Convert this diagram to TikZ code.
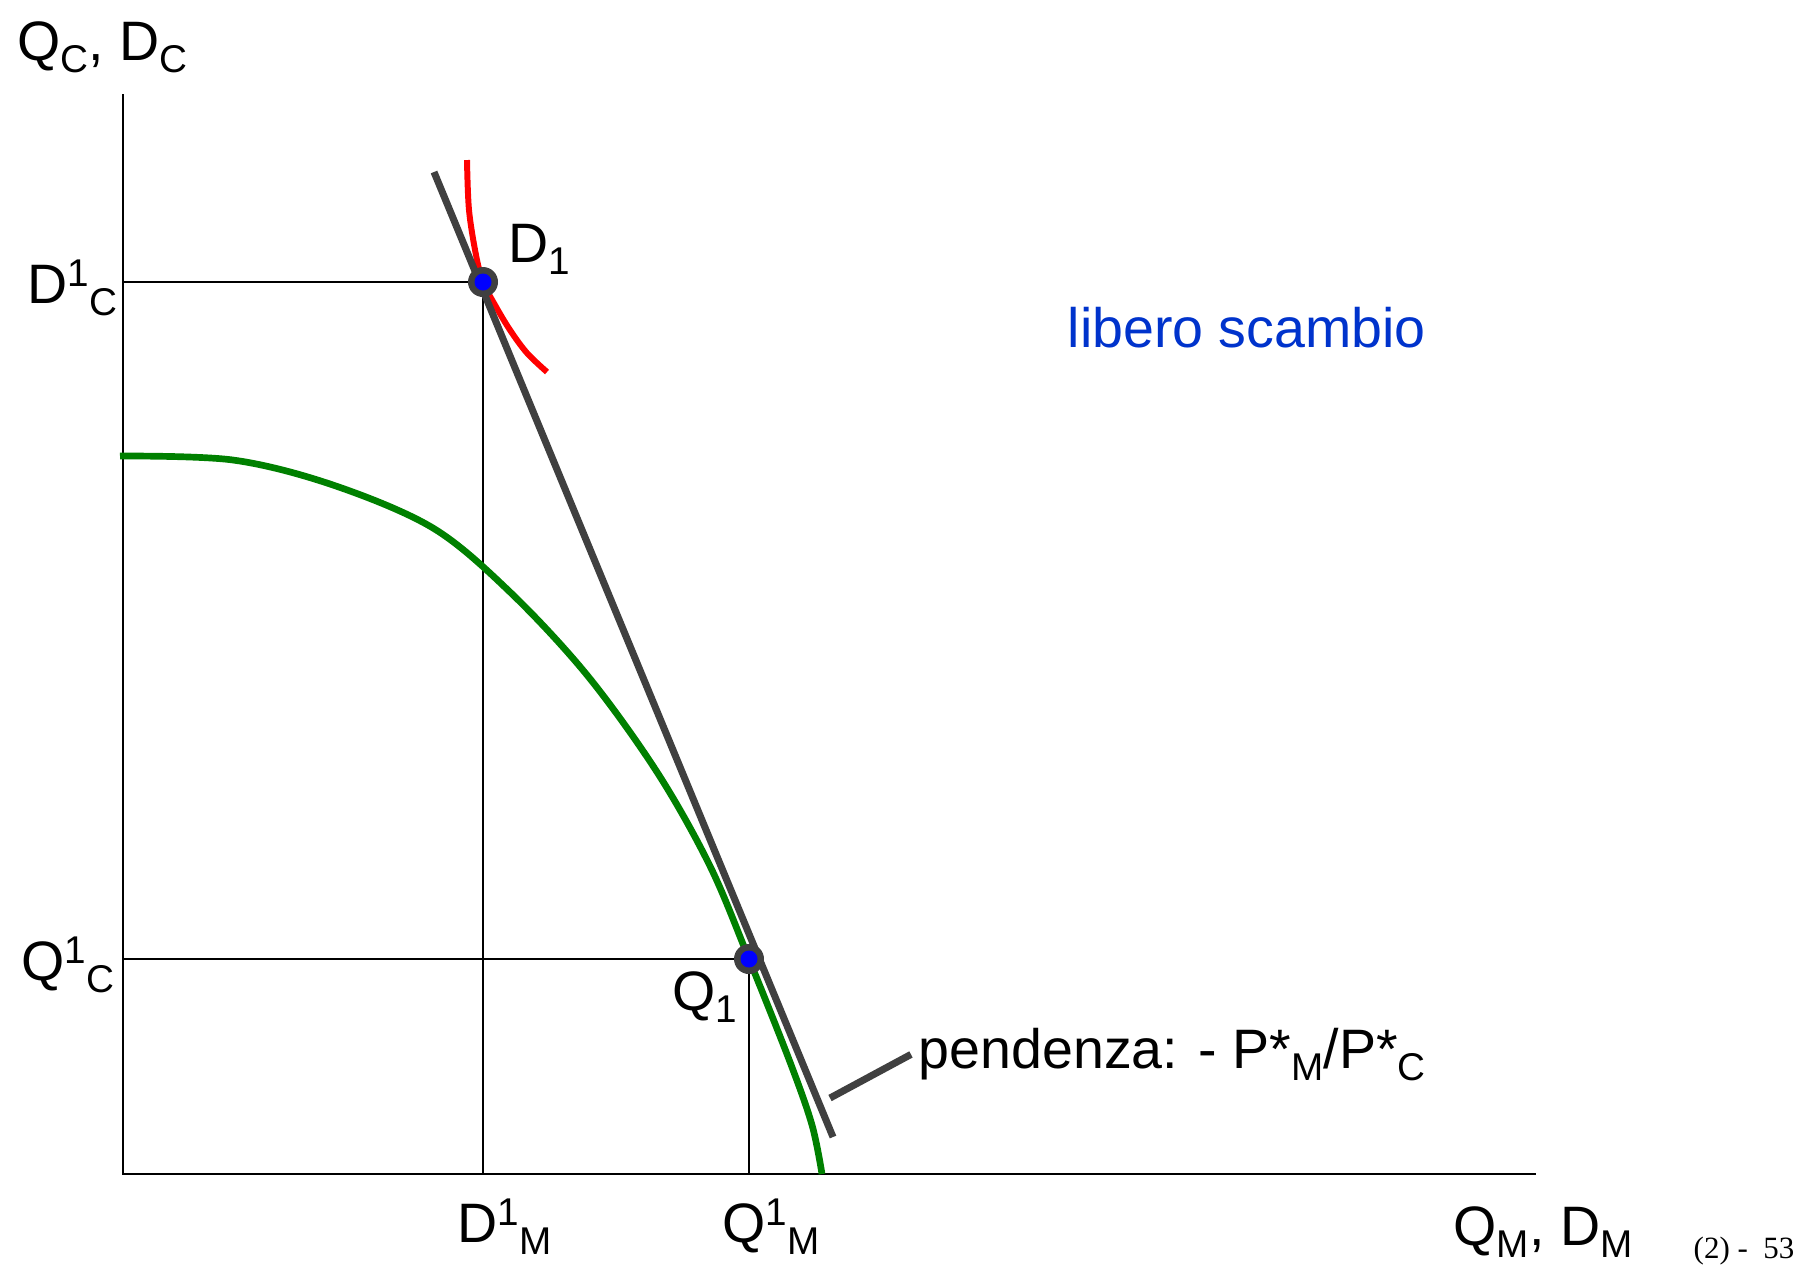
\documentclass[tikz,border=0pt]{standalone}
\usepackage{fontspec}
\setmainfont{Liberation Sans}
\newfontfamily\footfont{Liberation Serif}
\definecolor{linegray}{RGB}{64,64,64}
\definecolor{ppfgreen}{RGB}{0,128,0}
\definecolor{labelblue}{RGB}{0,51,204}
\newcommand{\lo}[1]{\raisebox{-3.6pt}{\fontsize{11}{12}\selectfont #1}}
\newcommand{\hi}[1]{\raisebox{4.7pt}{\fontsize{11}{12}\selectfont #1}}

\begin{document}
\begin{tikzpicture}[x=0.01cm, y=-0.01cm,
  every node/.style={font=\fontsize{15.8}{19}\selectfont, inner sep=0pt}]
  \useasboundingbox (0,0) rectangle (1800,1265);

  % axes
  \coordinate (O) at (123,1174);
  \coordinate (ytop) at (123,94);
  \coordinate (xend) at (1536,1174);
  \draw[line width=0.6pt] (ytop) -- (O) -- (xend);

  % equilibrium points
  \coordinate (D1) at (483,282);
  \coordinate (Q1) at (749,959);

  % guide lines
  \draw[line width=0.6pt] (O |- D1) -- (D1) -- (D1 |- O);
  \draw[line width=0.6pt] (O |- Q1) -- (Q1) -- (Q1 |- O);

  % transformation curve
  \draw[ppfgreen, line width=1.9pt] plot[smooth, tension=0.55] coordinates
    {(120,456) (233,460) (333,485) (433,528) (510,592) (587,675) (657,772)
     (710,866) (749,959) (790,1062) (812,1125) (822,1174)};

  % indifference curve
  \draw[red, line width=1.7pt] plot[smooth, tension=0.55] coordinates
    {(467,160) (469,210) (476,255) (483,282) (495,305) (510,330) (527,353) (547,372)};

  % price line
  \coordinate (pl1) at (434,172);
  \coordinate (pl2) at (833,1137);
  \draw[linegray, line width=2pt] (pl1) -- (pl2);

  % dots
  \foreach \p in {D1,Q1} {
    \fill[linegray] (\p) circle (0.15cm);
    \fill[blue] (\p) circle (0.085cm);
  }

  % slope label
  \coordinate (lead1) at (830,1098);
  \node[anchor=base west] (slope) at (918,1068) {pendenza: - P*\lo{M}/P*\lo{C}};
  \draw[linegray, line width=2pt] (lead1) -- ([xshift=-2pt]slope.west);

  % labels
  \node[anchor=base west] (ylab) at (17,60) {Q\lo{C}, D\lo{C}};
  \node[anchor=base east] (d1c) at (118,303) {D\hi{1}\lo{C}};
  \node[anchor=base east] (q1c) at (115,980) {Q\hi{1}\lo{C}};
  \node[anchor=base west] (d1lab) at (508,262) {D\lo{1}};
  \node[anchor=base west] (q1lab) at (672,1010) {Q\lo{1}};
  \node[anchor=base west] (d1m) at (457,1242) {D\hi{1}\lo{M}};
  \node[anchor=base west] (q1m) at (722,1242) {Q\hi{1}\lo{M}};
  \node[anchor=base west] (xlab) at (1453,1245) {Q\lo{M}, D\lo{M}};
  \node[anchor=base west, text=labelblue] (regime) at (1067,347) {libero scambio};
  \node[anchor=base west, font=\footfont\fontsize{8.8}{10}\selectfont] (pagenum) at (1693,1258) {(2) -\ \ 53};
\end{tikzpicture}
\end{document}
